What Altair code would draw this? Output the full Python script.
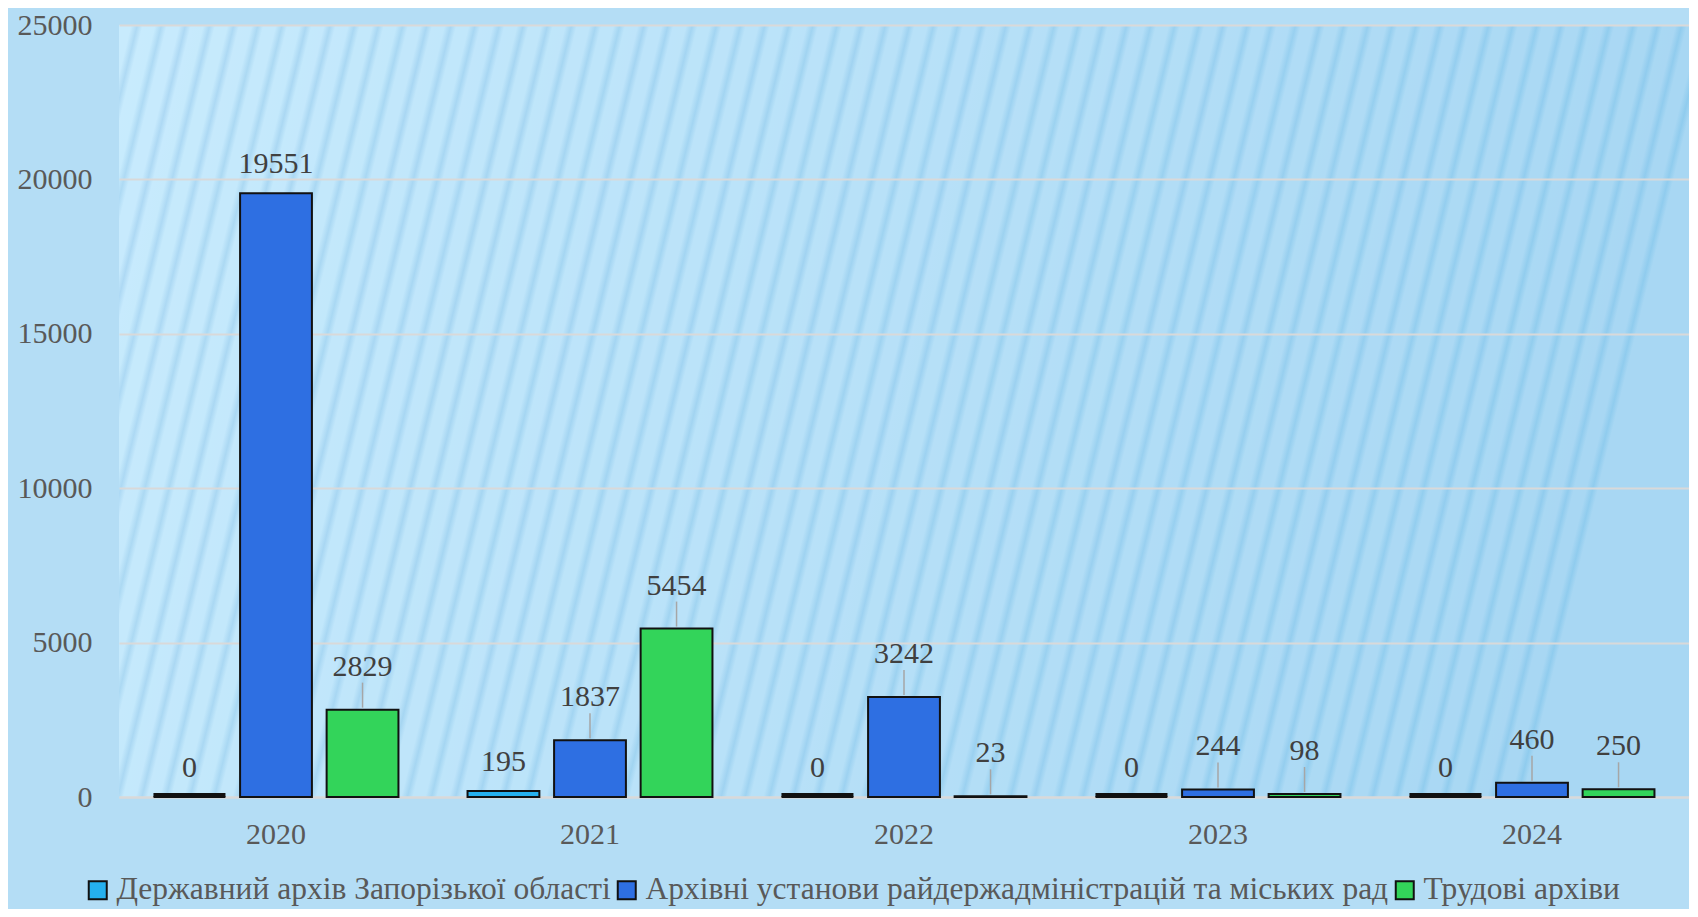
import altair as alt
import pandas as pd

years = ["2020", "2021", "2022", "2023", "2024"]
series = [
    "Державний архів Запорізької області",
    "Архівні установи райдержадміністрацій та міських рад",
    "Трудові архіви",
]
state_archive = [0, 195, 0, 0, 0]
district_archives = [19551, 1837, 3242, 244, 460]
labour_archives = [2829, 5454, 23, 98, 250]
y_ticks = [0, 5000, 10000, 15000, 20000, 25000]

colors = ["#25b0ee", "#2e6fe2", "#33d45a"]

rows = []
for s, vals in zip(series, [state_archive, district_archives, labour_archives]):
    for y, v in zip(years, vals):
        rows.append({"year": y, "series": s, "value": v})
df = pd.DataFrame(rows)
# labels moved away from their bars (with leader lines) vs. labels sitting on the bar
df["leader"] = (df["value"] > 0) & (df["value"] < 10000) & (df["series"] != series[0])


# ---- decorative striped background (style only) ----
def hex2rgb(h):
    h = h.lstrip("#")
    return [int(h[i:i + 2], 16) for i in (0, 2, 4)]


def lerp(c1, c2, t):
    a, b = hex2rgb(c1), hex2rgb(c2)
    return "#" + "".join(f"{round(a[i] + (b[i] - a[i]) * t):02x}" for i in range(3))


light_l, light_r = "#c8ebfd", "#a8d7f3"
dark_l, dark_r = "#afdaf4", "#90ccee"
n_stripes = 66
stops = []
for k in range(n_stripes):
    t0 = k / n_stripes
    for frac, kind in [(0.0, "l"), (0.5, "l"), (0.76, "d"), (0.99, "l")]:
        t = t0 + frac / n_stripes
        c = lerp(light_l, light_r, t) if kind == "l" else lerp(dark_l, dark_r, t)
        stops.append(f"{{offset: {t:.4f}, color: '{c}'}}")
grad_expr = "{gradient: 'linear', x1: 0, y1: 0, x2: 1, y2: 0.12, stops: [" + ", ".join(stops) + "]}"

FONT = "Liberation Serif"
FS = 30

x_enc = alt.X(
    "year:N",
    sort=years,
    scale=alt.Scale(paddingInner=0.22, paddingOuter=0.11),
    axis=alt.Axis(
        title=None, labelAngle=0, ticks=False, domain=True, domainColor="#d9d9d9",
        domainWidth=2, labelPadding=22, labelFont=FONT, labelFontSize=FS,
        labelColor="#595959", grid=False,
    ),
)
xo_enc = alt.XOffset("series:N", sort=series, scale=alt.Scale(paddingInner=0.17, paddingOuter=0))
y_enc = alt.Y(
    "value:Q",
    scale=alt.Scale(domain=[0, 25000], nice=False),
    axis=alt.Axis(
        title=None, values=y_ticks, format="d", grid=True, gridColor="#d9d9d9",
        gridWidth=2, ticks=False, domain=False, labelPadding=27, labelFont=FONT,
        labelFontSize=FS, labelColor="#595959",
    ),
)

base = alt.Chart(df)

bars = base.mark_bar(stroke="#111111", strokeWidth=2).encode(
    x=x_enc,
    xOffset=xo_enc,
    y=y_enc,
    color=alt.Color(
        "series:N",
        sort=series,
        scale=alt.Scale(domain=series, range=colors),
        legend=alt.Legend(
            title=None, orient="none", legendX=-37, legendY=849,
            direction="horizontal", columns=3, symbolType="square", symbolSize=324,
            symbolStrokeColor="#111111", symbolStrokeWidth=2, labelFont=FONT,
            labelFontSize=31.5, labelColor="#595959", labelLimit=0, columnPadding=0,
            labelOffset=3,
        ),
    ),
)

zero_bars = base.transform_filter("datum.value == 0").mark_tick(
    color="#111111", thickness=4, size=72, yOffset=-2, opacity=1
).encode(x=x_enc, xOffset=xo_enc, y=y_enc)

direct_labels = base.transform_filter("!datum.leader").mark_text(
    font=FONT, fontSize=FS, color="#404040", baseline="alphabetic", dy=-20
).encode(x=x_enc, xOffset=xo_enc, y=y_enc, text=alt.Text("value:Q", format="d"))

leader_labels = base.transform_filter("datum.leader").mark_text(
    font=FONT, fontSize=FS, color="#404040", baseline="alphabetic", dy=-34
).encode(x=x_enc, xOffset=xo_enc, y=y_enc, text=alt.Text("value:Q", format="d"))

leaders = base.transform_filter("datum.leader").mark_rule(
    color="#a6a6a6", strokeWidth=1.5, yOffset=-2, y2Offset=-27
).encode(x=x_enc, xOffset=xo_enc, y=y_enc, y2=alt.Y2("value"))

chart = (
    alt.layer(bars, zero_bars, leaders, direct_labels, leader_labels)
    .properties(
        width=1570,
        height=772,
        autosize=alt.AutoSizeParams(type="none"),
        padding={"left": 111, "top": 17, "right": 0, "bottom": 112},
        background="#b4ddf5",
    )
    .configure_view(strokeWidth=0, fill={"expr": grad_expr})
)

chart.save("out.html", embed_options={"renderer": "svg", "actions": False})
